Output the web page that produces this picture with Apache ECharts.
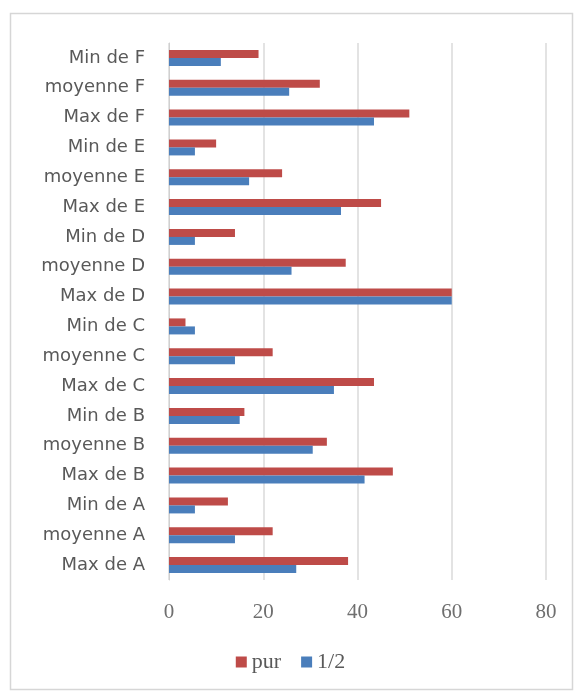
<!DOCTYPE html>
<html>
<head>
<meta charset="utf-8">
<script src="https://cdn.jsdelivr.net/npm/echarts@6/dist/echarts.min.js"></script>
<style>
  html, body { margin: 0; padding: 0; background: #fff; }
  #chart { width: 581px; height: 693px; }
</style>
</head>
<body>
<div id="chart"></div>
<script>
// Category labels, bottom to top
const categories = [
  'Max de A', 'moyenne A', 'Min de A',
  'Max de B', 'moyenne B', 'Min de B',
  'Max de C', 'moyenne C', 'Min de C',
  'Max de D', 'moyenne D', 'Min de D',
  'Max de E', 'moyenne E', 'Min de E',
  'Max de F', 'moyenne F', 'Min de F'
];
// "pur" values
const purValues = [
  38, 22, 12.5,
  47.5, 33.5, 16,
  43.5, 22, 3.5,
  60, 37.5, 14,
  45, 24, 10,
  51, 32, 19
];
// "1/2" values
const halfValues = [
  27, 14, 5.5,
  41.5, 30.5, 15,
  35, 14, 5.5,
  60, 26, 5.5,
  36.5, 17, 5.5,
  43.5, 25.5, 11
];
const xTicks = [0, 20, 40, 60, 80];
const seriesNames = ['pur', '1/2'];
const titleText = 'Groupe phylogénétique';

const chart = echarts.init(document.getElementById('chart'), null, { renderer: 'canvas' });

chart.setOption({
  animation: false,
  backgroundColor: '#ffffff',
  graphic: [
    {
      type: 'rect',
      shape: { x: 10.5, y: 13.5, width: 562, height: 676 },
      style: { fill: 'none', stroke: '#d6d6d6', lineWidth: 1.5 },
      z: -1
    },
    {
      type: 'text',
      x: -30,
      y: 2,
      style: {
        text: titleText,
        font: 'bold 44px "Liberation Serif"',
        verticalAlign: 'bottom',
        align: 'left',
        fill: '#000000'
      }
    }
  ],
  legend: {
    data: seriesNames,
    bottom: 15,
    left: 'center',
    icon: 'rect',
    itemWidth: 11,
    itemHeight: 11,
    itemGap: 20,
    textStyle: { fontFamily: 'Liberation Serif', fontSize: 22, color: '#595959' }
  },
  grid: { left: 169, right: 35, top: 43, bottom: 113, containLabel: false },
  xAxis: {
    type: 'value',
    min: 0,
    max: 80,
    interval: 20,
    axisLine: { show: false },
    axisTick: { show: false },
    splitLine: { show: true, lineStyle: { color: '#dadada', width: 1.5 } },
    axisLabel: {
      margin: 22,
      fontFamily: 'Liberation Serif',
      fontSize: 21,
      color: '#6f6f6f',
      formatter: v => xTicks.includes(v) ? String(v) : ''
    }
  },
  yAxis: {
    type: 'category',
    data: categories,
    axisLine: { show: true, lineStyle: { color: '#d0d0d0', width: 1 } },
    axisTick: { show: false },
    axisLabel: {
      margin: 24,
      fontFamily: 'DejaVu Sans',
      fontSize: 18,
      color: '#595959'
    }
  },
  series: [
    {
      name: 'pur',
      type: 'bar',
      data: purValues,
      barWidth: 8,
      barGap: '0%',
      itemStyle: { color: '#be4b48' }
    },
    {
      name: '1/2',
      type: 'bar',
      data: halfValues,
      barWidth: 8,
      barGap: '0%',
      itemStyle: { color: '#4a7ebb' }
    }
  ]
});
</script>
</body>
</html>
